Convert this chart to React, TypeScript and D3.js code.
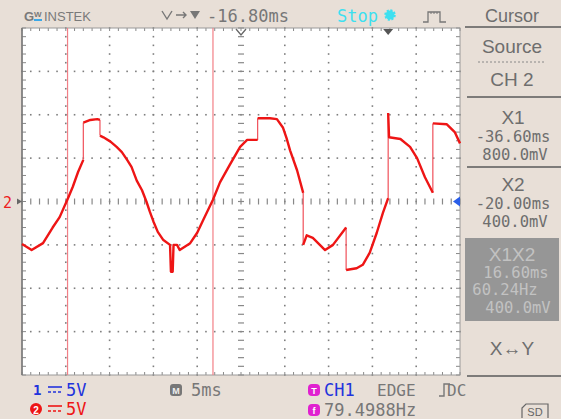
import React from 'react';
import * as d3 from 'd3';

// channel 2 trace, [time ms, volts]
const TRACE: [number, number][] = [
  [-41.8, -4.9], [-40.7, -5.6], [-39.4, -4.8], [-38.3, -3.0], [-37.5, -1.8], [-36.5, 0.5],
  [-36.0, 1.7], [-35.4, 3.4], [-34.8, 4.8], [-34.8, 9.1], [-34.0, 9.4], [-33.2, 9.5],
  [-32.9, 9.4], [-32.9, 7.6], [-32.5, 7.4], [-31.7, 6.9], [-31.0, 6.3], [-30.4, 5.7],
  [-29.8, 4.8], [-29.3, 4.0], [-28.7, 2.4], [-28.1, 1.3], [-27.6, 0.0], [-27.2, -1.2],
  [-26.8, -2.3], [-26.3, -3.5], [-25.7, -4.4], [-24.9, -5.0], [-24.8, -8.1], [-24.6, -8.1],
  [-24.5, -5.0], [-24.1, -5.0], [-23.8, -5.6], [-22.6, -4.8], [-21.8, -3.6], [-21.1, -2.1],
  [-20.0, 0.2], [-19.2, 2.2], [-18.1, 4.2], [-16.9, 6.3], [-16.1, 7.1], [-14.9, 7.1],
  [-14.9, 9.6], [-13.5, 9.6], [-12.7, 9.5], [-12.0, 8.5], [-11.6, 7.3], [-11.2, 5.9],
  [-10.4, 3.6], [-9.7, 1.0], [-9.7, -5.0], [-9.3, -3.9], [-8.6, -4.2], [-7.2, -5.6],
  [-6.3, -5.0], [-4.8, -3.0], [-4.8, -7.9], [-3.6, -7.7], [-2.9, -7.3], [-2.1, -5.9],
  [-1.3, -3.6], [-0.6, -1.3], [0.0, 0.4], [0.0, 10.2], [0.1, 7.4], [1.4, 7.2],
  [2.5, 6.3], [3.3, 5.0], [4.2, 2.8], [5.1, 1.0], [5.1, 9.0], [6.7, 8.9],
  [7.6, 8.0], [8.2, 6.7],
];

const POSITION = -16.8; // ms at screen centre
const TIME_DIV = 5; // ms / div
const VOLT_DIV = 5; // V / div
const CURSORS = [-36.6, -20.0];
const TRIGGER_T = 0;

const PANEL_TOP = ['Source', 'CH 2'];
const X1_LINES = ['X1', '-36.60ms', '800.0mV'];
const X2_LINES = ['X2', '-20.00ms', '400.0mV'];
const DELTA_LINES = ['X1X2', '16.60ms', '60.24Hz', '400.0mV'];

const BG = '#e8dfd7';
const GREY = '#6e6e6e';
const MONO = '"DejaVu Sans Mono", monospace';
const SANS = '"Liberation Sans", Arial, sans-serif';

const App = () => {
  const W = 561;
  const H = 419;
  const L = 22, R = 460, T = 28, B = 375;

  const x = d3.scaleLinear().domain([POSITION - 5 * TIME_DIV, POSITION + 5 * TIME_DIV]).range([L, R]);
  const y = d3.scaleLinear().domain([-4 * VOLT_DIV, 4 * VOLT_DIV]).range([B, T]);

  const xMajor = d3.range(11).map((i) => POSITION - 5 * TIME_DIV + i * TIME_DIV);
  const yMajor = d3.range(9).map((i) => -4 * VOLT_DIV + i * VOLT_DIV);
  const xMinor = d3.range(51).map((i) => POSITION - 5 * TIME_DIV + (i * TIME_DIV) / 5);
  const yMinor = d3.range(41).map((i) => -4 * VOLT_DIV + (i * VOLT_DIV) / 5);

  // split trace into sloped runs and vertical jumps
  const runs: [number, number][][] = [];
  const jumps: [number, number][][] = [];
  let cur: [number, number][] = [TRACE[0]];
  for (let i = 1; i < TRACE.length; i++) {
    const p = TRACE[i - 1], q = TRACE[i];
    if (p[0] === q[0]) {
      if (cur.length > 1) runs.push(cur);
      jumps.push([p, q]);
      cur = [q];
    } else cur.push(q);
  }
  if (cur.length > 1) runs.push(cur);

  const line = d3.line<[number, number]>().x((d) => x(d[0])).y((d) => y(d[1]));

  const dots: JSX.Element[] = [];
  xMajor.slice(1, -1).forEach((t, i) => {
    if (i === 4) return;
    yMinor.forEach((v, k) => dots.push(<rect key={`v${i}-${k}`} x={x(t) - 0.8} y={y(v) - 0.8} width={1.6} height={1.6} fill="#7e7e7e" />));
  });
  yMajor.slice(1, -1).forEach((v, j) => {
    if (j === 3) return;
    xMinor.forEach((t, k) => dots.push(<rect key={`h${j}-${k}`} x={x(t) - 0.8} y={y(v) - 0.8} width={1.6} height={1.6} fill="#7e7e7e" />));
  });

  const cx = x(POSITION), cy = y(0);

  const sep = (yy: number) => <line x1={467} x2={561} y1={yy} y2={yy} stroke="#5a5a5a" strokeWidth={1.5} />;

  return (
    <div style={{ position: 'fixed', left: 0, top: 0 }}>
      <svg width={W} height={H} style={{ display: 'block' }}>
        <rect width={W} height={H} fill={BG} />
        <rect x={L} y={T} width={R - L} height={B - T} fill="#ffffff" />
        {dots}
        {/* centre cross */}
        {xMinor.map((t, k) => (
          <line key={`cx${k}`} x1={x(t)} x2={x(t)} y1={cy - 3} y2={cy + 3} stroke="#888" strokeWidth={1.2} />
        ))}
        {yMinor.map((v, k) => (
          <line key={`cy${k}`} x1={cx - 3} x2={cx + 3} y1={y(v)} y2={y(v)} stroke="#888" strokeWidth={1.2} />
        ))}
        {/* border ticks */}
        {xMinor.map((t, k) => (
          <g key={`bt${k}`} stroke="#888" strokeWidth={1}>
            <line x1={x(t)} x2={x(t)} y1={T} y2={T + 3} />
            <line x1={x(t)} x2={x(t)} y1={B - 3} y2={B} />
          </g>
        ))}
        {yMinor.map((v, k) => (
          <g key={`bl${k}`} stroke="#888" strokeWidth={1}>
            <line x1={L} x2={L + 4} y1={y(v)} y2={y(v)} />
            <line x1={R - 4} x2={R} y1={y(v)} y2={y(v)} />
          </g>
        ))}
        <rect x={L} y={T} width={R - L} height={B - T} fill="none" stroke="#9a9a9a" strokeWidth={1} />
        <line x1={L} x2={L} y1={T} y2={B} stroke="#777" strokeWidth={1.5} />

        {/* cursors */}
        {CURSORS.map((t) => (
          <line key={t} x1={x(t)} x2={x(t)} y1={T} y2={B} stroke="#f27f86" strokeWidth={1.2} />
        ))}

        {/* trace */}
        {jumps.map((s, i) => (
          <path key={`j${i}`} d={line(s) || ''} fill="none" stroke="#f0505a" strokeWidth={1.2} />
        ))}
        {runs.map((s, i) => (
          <path key={`r${i}`} d={line(s) || ''} fill="none" stroke="#ee1515" strokeWidth={2.4} strokeLinejoin="round" />
        ))}

        {/* markers */}
        <text x={3} y={cy + 1} fill="#ee2020" fontFamily={MONO} fontSize={15} dominantBaseline="central">2</text>
        <path d={`M${L - 5},${cy - 3} L${L},${cy} L${L - 5},${cy + 3} Z`} fill="#666" />
        <path d={`M${R - 7},${cy} L${R},${cy - 5} L${R},${cy + 5} Z`} fill="#2a5ee8" />
        <path d={`M${cx - 5},${T + 1} L${cx},${T + 7} L${cx + 5},${T + 1}`} fill="none" stroke="#666" strokeWidth={1.3} />
        <path d={`M${x(TRIGGER_T) - 5},${T + 1} L${x(TRIGGER_T) + 5},${T + 1} L${x(TRIGGER_T)},${T + 7} Z`} fill="#555" />

        {/* top bar */}
        <text x={24} y={16} fill="#7a7a7a" fontFamily={SANS} fontSize={13} fontWeight="bold" dominantBaseline="central">G</text>
        <text x={34} y={14} fill="#7a7a7a" fontFamily={SANS} fontSize={8} fontWeight="bold" dominantBaseline="central">W</text>
        <line x1={34} x2={42} y1={20} y2={20} stroke="#3aa8e8" strokeWidth={2} />
        <text x={44} y={16} fill="#7a7a7a" fontFamily={SANS} fontSize={13} dominantBaseline="central">INSTEK</text>
        <path d="M162,11 L167,19 L172,11" fill="none" stroke="#777" strokeWidth={1.4} />
        <path d="M176,15 H186 M183,12 L186,15 L183,18" fill="none" stroke="#777" strokeWidth={1.4} />
        <path d="M190,11 H200 L195,19 Z" fill="#777" />
        <text x={207} y={16} fill="#777" fontFamily={MONO} fontSize={17} dominantBaseline="central">-16.80ms</text>
        <text x={337} y={16} fill="#3ee0f0" fontFamily={MONO} fontSize={17} dominantBaseline="central">Stop</text>
        <circle cx={390} cy={15} r={4.5} fill="#3ee0f0" stroke="#3ee0f0" strokeWidth={2.5} strokeDasharray="2 1.5" />
        <path d="M423,22 H428 V12 H440 V22 H446" fill="none" stroke="#777" strokeWidth={1.3} />
        <path d="M431,12 V14 M434,12 V14 M437,12 V14" stroke="#777" strokeWidth={1} />
        <text x={512} y={16} fill={GREY} fontFamily={SANS} fontSize={18} textAnchor="middle" dominantBaseline="central">Cursor</text>
        <line x1={465} x2={561} y1={27} y2={27} stroke="#5a5a5a" strokeWidth={1.5} />

        {/* right panel */}
        <text x={512} y={46} fill={GREY} fontFamily={SANS} fontSize={19} textAnchor="middle" dominantBaseline="central">{PANEL_TOP[0]}</text>
        <line x1={478} x2={545} y1={62} y2={62} stroke="#888" strokeWidth={1} strokeDasharray="2 2" />
        <text x={512} y={79} fill={GREY} fontFamily={SANS} fontSize={19} textAnchor="middle" dominantBaseline="central">{PANEL_TOP[1]}</text>
        {sep(97)}
        {X1_LINES.map((s, i) => (
          <text key={s} x={i === 2 ? 515 : 513} y={[117, 137, 155][i]} fill={GREY} fontFamily={i === 0 ? SANS : MONO} fontSize={i === 0 ? 19 : 15.5} textAnchor="middle" dominantBaseline="central">{s}</text>
        ))}
        {sep(167)}
        {X2_LINES.map((s, i) => (
          <text key={s} x={i === 2 ? 515 : 513} y={[184, 204, 222][i]} fill={GREY} fontFamily={i === 0 ? SANS : MONO} fontSize={i === 0 ? 19 : 15.5} textAnchor="middle" dominantBaseline="central">{s}</text>
        ))}
        <rect x={465} y={238} width={94} height={83} fill="#969696" />
        {DELTA_LINES.map((s, i) => (
          <text key={s} x={[512, 516, 505, 518][i]} y={[254, 273, 290, 308][i]} fill="#c2c2c2" fontFamily={i === 0 ? SANS : MONO} fontSize={i === 0 ? 19 : 15.5} textAnchor="middle" dominantBaseline="central">{s}</text>
        ))}
        <text x={512} y={348} fill={GREY} fontFamily={SANS} fontSize={19} textAnchor="middle" dominantBaseline="central">X↔Y</text>
        {sep(376)}

        {/* bottom bar */}
        <text x={33} y={390} fill="#2233dd" fontFamily={MONO} fontSize={14} fontWeight="bold" dominantBaseline="central">1</text>
        <g stroke="#2233dd" strokeWidth={1.6}>
          <line x1={48} x2={62} y1={387} y2={387} />
          <line x1={48} x2={62} y1={392} y2={392} strokeDasharray="3 2" />
        </g>
        <text x={66} y={390} fill="#2233dd" fontFamily={MONO} fontSize={17} dominantBaseline="central">5V</text>
        <circle cx={36} cy={409} r={6} fill="#ee1515" />
        <text x={36} y={410} fill="#fff" fontFamily={SANS} fontSize={10} fontWeight="bold" textAnchor="middle" dominantBaseline="central">2</text>
        <g stroke="#ee1515" strokeWidth={1.6}>
          <line x1={48} x2={62} y1={406} y2={406} />
          <line x1={48} x2={62} y1={411} y2={411} strokeDasharray="3 2" />
        </g>
        <text x={66} y={409} fill="#ee1515" fontFamily={MONO} fontSize={17} dominantBaseline="central">5V</text>

        <rect x={170} y={384} width={12} height={12} rx={3} fill="#777" />
        <text x={176} y={390.5} fill="#eee" fontFamily={SANS} fontSize={9} fontWeight="bold" textAnchor="middle" dominantBaseline="central">M</text>
        <text x={191} y={390} fill="#777" fontFamily={MONO} fontSize={17} dominantBaseline="central">5ms</text>

        <rect x={308} y={384} width={12} height={12} rx={4} fill="#e020d0" />
        <text x={314} y={390.5} fill="#fff" fontFamily={SANS} fontSize={9} fontWeight="bold" textAnchor="middle" dominantBaseline="central">T</text>
        <text x={324} y={390} fill="#2233dd" fontFamily={MONO} fontSize={17} dominantBaseline="central">CH1</text>
        <text x={377} y={390} fill="#777" fontFamily={MONO} fontSize={16} dominantBaseline="central">EDGE</text>
        <path d="M439,396 H444 V384 H450" fill="none" stroke="#777" strokeWidth={1.4} />
        <text x={447} y={390} fill="#777" fontFamily={MONO} fontSize={16} dominantBaseline="central">DC</text>
        <rect x={308} y={404} width={12} height={12} rx={4} fill="#e020d0" />
        <text x={314} y={410.5} fill="#fff" fontFamily={SANS} fontSize={9} fontWeight="bold" textAnchor="middle" dominantBaseline="central">f</text>
        <text x={324} y={410} fill="#777" fontFamily={MONO} fontSize={17} dominantBaseline="central">79.4988Hz</text>

        <path d="M522,418 V408 L526,404 H548 V418" fill="none" stroke="#666" strokeWidth={1.2} />
        <text x={535} y={412} fill="#666" fontFamily={SANS} fontSize={11} textAnchor="middle" dominantBaseline="central">SD</text>
      </svg>
    </div>
  );
};

export default App;
